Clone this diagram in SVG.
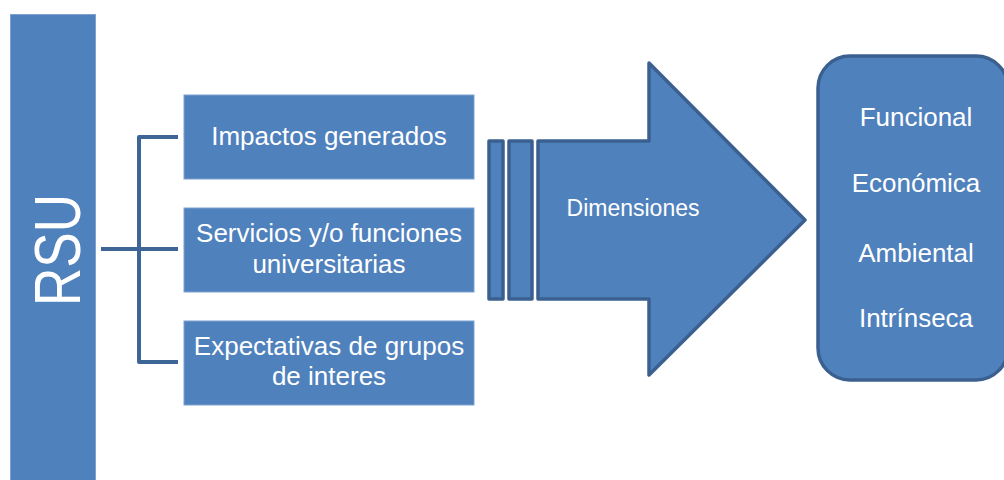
<svg xmlns="http://www.w3.org/2000/svg" width="1004" height="480" viewBox="0 0 1004 480">
  <style>
    .box { fill: #4F81BD; stroke: #7FA1CF; stroke-width: 1; }
    .shape { fill: #4F81BD; stroke: #3B6090; stroke-width: 3.5; stroke-linejoin: round; }
    .conn { fill: none; stroke: #3D6596; stroke-width: 4; stroke-linejoin: round; }
    .t { fill: #FFFFFF; font-family: "Liberation Sans", Arial, sans-serif; text-anchor: middle; }
  </style>
  <rect width="1004" height="480" fill="#FFFFFF"/>

  <g id="rsu">
    <rect class="box" x="10.5" y="14.5" width="85" height="470"/>
    <text class="t" transform="translate(80,250) rotate(-90)" font-size="64" textLength="112" lengthAdjust="spacingAndGlyphs">RSU</text>
  </g>

  <g id="connectors">
    <path class="conn" d="M101,249 H139 M178,137 H139 V362 H178 M139,249 H178"/>
  </g>

  <g id="impactos">
    <rect class="box" x="184" y="95" width="290" height="84"/>
    <text class="t" x="329" y="145" font-size="26">Impactos generados</text>
  </g>

  <g id="servicios">
    <rect class="box" x="184" y="208" width="290" height="84"/>
    <text class="t" x="329" y="242" font-size="26">Servicios y/o funciones</text>
    <text class="t" x="329" y="273" font-size="26">universitarias</text>
  </g>

  <g id="expectativas">
    <rect class="box" x="184" y="321" width="290" height="84"/>
    <text class="t" x="329" y="355" font-size="26">Expectativas de grupos</text>
    <text class="t" x="329" y="385" font-size="26">de interes</text>
  </g>

  <g id="dimensiones">
    <rect class="shape" x="489" y="141" width="14" height="158"/>
    <rect class="shape" x="509" y="141" width="23" height="158"/>
    <path class="shape" d="M538,141 H649 V63 L805,220 L649,375 V299 H538 Z"/>
    <text class="t" x="633" y="216" font-size="23">Dimensiones</text>
  </g>

  <g id="tipos">
    <rect class="shape" x="818" y="56" width="190" height="324" rx="32" ry="32"/>
    <text class="t" x="916" y="126" font-size="26">Funcional</text>
    <text class="t" x="916" y="192" font-size="26">Económica</text>
    <text class="t" x="916" y="262" font-size="26">Ambiental</text>
    <text class="t" x="916" y="327" font-size="26">Intrínseca</text>
  </g>
</svg>
